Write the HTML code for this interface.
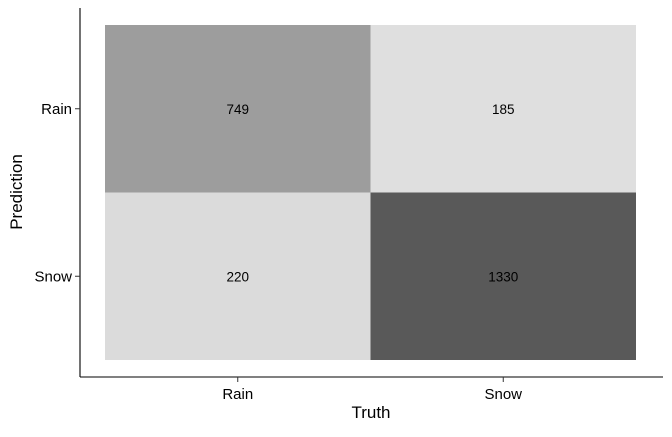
<!DOCTYPE html>
<html><head><meta charset="utf-8"><style>
body{margin:0;background:#fff}
svg text{font-family:"Liberation Sans",Arial,sans-serif}
</style></head><body>
<svg id="chart" width="672" height="432">
<g id="tiles"></g>
<line x1="80" y1="8" x2="80" y2="377" stroke="#000" stroke-width="1.1"/>
<line x1="80" y1="377" x2="663" y2="377" stroke="#000" stroke-width="1.1"/>
<g id="axes"></g>
<text x="371" y="418" font-size="17" text-anchor="middle">Truth</text>
<text x="22" y="192" font-size="17" text-anchor="middle" transform="rotate(-90 22 192)">Prediction</text>
</svg>
<script>
const truthCats = ["Rain","Snow"];
const predCats = ["Rain","Snow"];
const counts = [[749,185],[220,1330]]; // rows: prediction, cols: truth
const ns="http://www.w3.org/2000/svg";
const x0=105,x1=636,y0=25,y1=360;
const bw=(x1-x0)/truthCats.length,bh=(y1-y0)/predCats.length;
function xs(i){return x0+i*bw;}
function ys(j){return y0+j*bh;}
const all=counts.flat(),mn=Math.min(...all),mx=Math.max(...all);
function grey(v){const t=Math.pow((v-mn)/(mx-mn),1.0);const g=Math.round(223-t*134);return `rgb(${g},${g},${g})`;}
const tg=document.getElementById('tiles'),ag=document.getElementById('axes');
predCats.forEach((p,j)=>{truthCats.forEach((t,i)=>{
 const r=document.createElementNS(ns,'rect');
 r.setAttribute('x',xs(i));r.setAttribute('y',ys(j));r.setAttribute('width',bw);r.setAttribute('height',bh);
 r.setAttribute('fill',grey(counts[j][i]));
 
 
 tg.appendChild(r);
 const tx=document.createElementNS(ns,'text');
 tx.setAttribute('x',xs(i)+bw/2);tx.setAttribute('y',ys(j)+bh/2+5);
 tx.setAttribute('font-size','13.5');tx.setAttribute('text-anchor','middle');
 tx.textContent=counts[j][i];
 
 
 tg.appendChild(tx);
});});
truthCats.forEach((t,i)=>{
 const cx=xs(i)+bw/2;
 const l=document.createElementNS(ns,'line');
 l.setAttribute('x1',cx);l.setAttribute('x2',cx);l.setAttribute('y1',377);l.setAttribute('y2',382);l.setAttribute('stroke','#333');
 
 
 ag.appendChild(l);
 const tx=document.createElementNS(ns,'text');
 tx.setAttribute('x',cx);tx.setAttribute('y',399);tx.setAttribute('font-size','15');tx.setAttribute('text-anchor','middle');tx.setAttribute('fill','#000');
 tx.textContent=t;
 
 
 ag.appendChild(tx);
});
predCats.forEach((p,j)=>{
 const cy=ys(j)+bh/2;
 const l=document.createElementNS(ns,'line');
 l.setAttribute('x1',75);l.setAttribute('x2',80);l.setAttribute('y1',cy);l.setAttribute('y2',cy);l.setAttribute('stroke','#333');
 
 
 ag.appendChild(l);
 const tx=document.createElementNS(ns,'text');
 tx.setAttribute('x',72);tx.setAttribute('y',cy+5);tx.setAttribute('font-size','15');tx.setAttribute('text-anchor','end');
 tx.textContent=p;
 
 
 ag.appendChild(tx);
});
</script>
</body></html>
